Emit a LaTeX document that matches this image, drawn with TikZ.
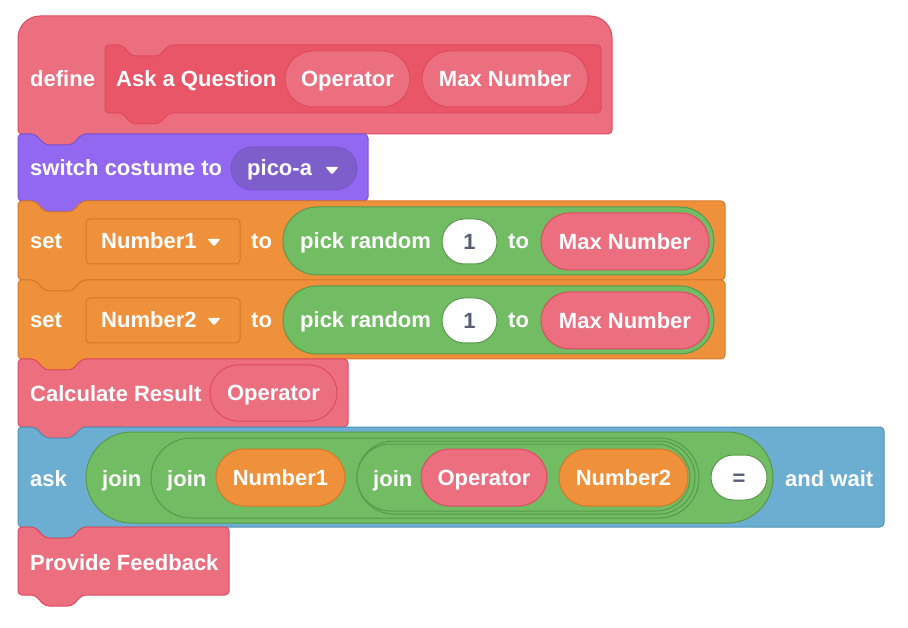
\documentclass[tikz,border=0pt]{standalone}
\usepackage{fontspec}
\setmainfont{Liberation Sans}
\definecolor{pinkA}{HTML}{EC6F80}
\definecolor{pinkB}{HTML}{E04A60}
\definecolor{pinkC}{HTML}{E95668}
\definecolor{purp}{HTML}{9268F0}
\definecolor{purpD}{HTML}{7A55D6}
\definecolor{purpC}{HTML}{7D5FCB}
\definecolor{orng}{HTML}{EF913A}
\definecolor{orngD}{HTML}{D6782A}
\definecolor{grn}{HTML}{72BC64}
\definecolor{grnD}{HTML}{589A4B}
\definecolor{blu}{HTML}{6CAED1}
\definecolor{bluD}{HTML}{4F92B7}
\definecolor{txtg}{HTML}{575E75}
\newcommand\blockfont{\fontsize{22}{24}\selectfont\bfseries}
% stack block with top notch and bottom tab: x1,y1,x2,y2,fill,border
\newcommand\stackblk[6]{%
  \filldraw[fill=#5,draw=#6,line width=1pt]
    ({#3-10},#2) [rounded corners=4pt] -- (#3,#2) -- (#3,#4) -- (#1+64,#4)
    -- (#1+54,#4+11) -- (#1+27,#4+11) -- (#1+17,#4) -- (#1,#4) -- (#1,#2)
    -- (#1+17,#2) -- (#1+27,#2+11) -- (#1+54,#2+11) -- (#1+64,#2) -- cycle;}
% rounded reporter: name, x1,y1,x2,y2, fill, border, text
\newcommand\rpill[8]{%
  \node[pillshape, fill=#6, draw=#7, minimum width={(#4-#2)*1pt},
    minimum height={(#5-#3)*1pt}, rounded corners={(#5-#3)/2*1pt-0.05pt}]
    (#1) at ({(#2+#4)/2},{(#3+#5)/2}) {#8};}
% dropdown arrow: centre x, top y
\newcommand\ddarrow[2]{%
  \fill[white, rounded corners=1pt] (#1-6.5,#2) -- (#1+6.5,#2) -- (#1,#2+7.5) -- cycle;}
\begin{document}
\begin{tikzpicture}[x=1pt,y=-1pt,
  lbl/.style={text=white, font=\blockfont, inner sep=0pt, anchor=base west},
  pillshape/.style={line width=1pt, inner sep=0pt, outer sep=0pt,
    text=white, font=\blockfont, text height=15.5pt, text depth=0pt},
  numin/.style={pillshape, text=txtg}]
\useasboundingbox (0,0) rectangle (908,628);

% ---- define hat block
\filldraw[fill=pinkA,draw=pinkB,line width=1pt]
  (315,16) [rounded corners=22pt] -- (612,16) -- (612,80)
  [rounded corners=4pt] -- (612,134) -- (82,134) -- (72,145) -- (45,145)
  -- (35,134) -- (18,134) -- (18,80) [rounded corners=22pt] -- (18,16) -- cycle;
\node[lbl] (tdefine) at (30,87) {define};
\stackblk{105}{45}{601}{113}{pinkC}{pinkB}
\node[lbl] (tproto) at (116,87) {Ask a Question};
\rpill{argop}{285}{51}{410}{107}{pinkA}{pinkB}{Operator}
\rpill{argmax}{422}{51}{588}{107}{pinkA}{pinkB}{Max Number}

% ---- switch costume
\stackblk{18}{134}{368}{201}{purp}{purpD}
\node[lbl] (tswitch) at (30,176) {switch costume to};
\rpill{costume}{231}{147}{357}{190}{purpC}{purpD}{}
\node[lbl] (tpico) at (247,176) {pico-a};
\ddarrow{332}{167}

% ---- set Number1
\stackblk{18}{201}{725}{280}{orng}{orngD}
\node[lbl] (tset1) at (30,249) {set};
\node[draw=orngD, fill=orng, line width=1pt, rounded corners=4pt,
  minimum width=154pt, minimum height=45pt, inner sep=0pt] (var1) at (163,241.5) {};
\node[lbl] (tvar1) at (101,249) {Number1};
\ddarrow{214}{239}
\node[lbl] (tto1) at (251,249) {to};
\rpill{rand1}{283}{207}{714}{275}{grn}{grnD}{}
\node[lbl] (tpick1) at (300,249) {pick random};
\rpill{low1}{442}{219}{497}{264}{white}{grnD}{}
\node[numin] (tlow1) at (low1) {1};
\node[lbl] (tto1b) at (508,249) {to};
\rpill{max1}{541}{213}{709}{270}{pinkA}{pinkB}{Max Number}

% ---- set Number2
\stackblk{18}{280}{725}{359}{orng}{orngD}
\node[lbl] (tset2) at (30,328) {set};
\node[draw=orngD, fill=orng, line width=1pt, rounded corners=4pt,
  minimum width=154pt, minimum height=45pt, inner sep=0pt] (var2) at (163,320.5) {};
\node[lbl] (tvar2) at (101,328) {Number2};
\ddarrow{214}{318}
\node[lbl] (tto2) at (251,328) {to};
\rpill{rand2}{283}{286}{714}{354}{grn}{grnD}{}
\node[lbl] (tpick2) at (300,328) {pick random};
\rpill{low2}{442}{298}{497}{343}{white}{grnD}{}
\node[numin] (tlow2) at (low2) {1};
\node[lbl] (tto2b) at (508,328) {to};
\rpill{max2}{541}{292}{709}{349}{pinkA}{pinkB}{Max Number}

% ---- Calculate Result
\stackblk{18}{359}{348}{427}{pinkA}{pinkB}
\node[lbl] (tcalc) at (30,402) {Calculate Result};
\rpill{calcop}{210}{365}{337}{421}{pinkA}{pinkB}{Operator}

% ---- ask ... and wait
\stackblk{18}{427}{884}{527}{blu}{bluD}
\node[lbl] (task) at (30,486) {ask};
\rpill{joinA}{86}{432}{773}{523}{grn}{grnD}{}
\node[lbl] (tjoinA) at (102,486) {join};
\rpill{joinB}{151}{438}{699}{518}{grn}{grnD}{}
\node[lbl] (tjoinB) at (167,486) {join};
\rpill{slotC}{357}{441}{695}{514}{grn}{grnD}{}
\rpill{joinC}{357}{444}{690}{511}{grn}{grnD}{}
\node[lbl] (tjoinC) at (373,486) {join};
\rpill{num1}{216}{449}{345}{506}{orng}{orngD}{Number1}
\rpill{askop}{421}{449}{547}{506}{pinkA}{pinkB}{Operator}
\rpill{num2}{559}{449}{688}{506}{orng}{orngD}{Number2}
\rpill{eqin}{711}{455}{767}{500}{white}{grnD}{}
\node[numin] (teq) at (eqin) {=};
\node[lbl] (twait) at (785,486) {and wait};

% ---- Provide Feedback
\stackblk{18}{527}{229}{595}{pinkA}{pinkB}
\node[lbl] (tfeed) at (30,570) {Provide Feedback};
\end{tikzpicture}
\end{document}
